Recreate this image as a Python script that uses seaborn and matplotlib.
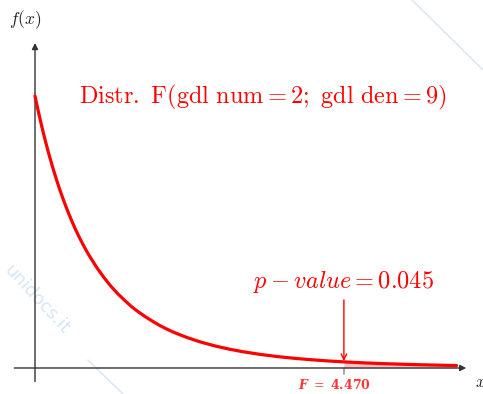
import numpy as np
import pandas as pd
import matplotlib
matplotlib.use("Agg")
import matplotlib.pyplot as plt
import seaborn as sns

# Density of F(2, 9) sampled along x
x_vals = [0.0, 0.025, 0.05, 0.1, 0.15, 0.2, 0.25, 0.3, 0.35, 0.4, 0.45, 0.5,
          0.55, 0.6, 0.65, 0.7, 0.75, 0.8, 0.9, 1.0, 1.1, 1.2, 1.3, 1.4, 1.5,
          1.6, 1.7, 1.8, 1.9, 2.0, 2.2, 2.4, 2.6, 2.8, 3.0, 3.25, 3.5, 3.75,
          4.0, 4.25, 4.47, 4.75, 5.0, 5.5, 6.0, 6.1]
y_vals = [1.0, 0.970, 0.941, 0.886, 0.835, 0.787, 0.743, 0.701, 0.662, 0.626,
          0.592, 0.560, 0.530, 0.502, 0.476, 0.4515, 0.428, 0.407, 0.367,
          0.332, 0.300, 0.2725, 0.248, 0.225, 0.2055, 0.188, 0.172, 0.157,
          0.144, 0.132, 0.112, 0.0953, 0.0814, 0.0699, 0.0602, 0.0503, 0.0422,
          0.0357, 0.0303, 0.0258, 0.0225, 0.0190, 0.0164, 0.0124, 0.00946,
          0.0090]

f_stat = 4.470
p_value = 0.045
title = r"$\mathrm{Distr.\ F(gdl\ num} = 2;\ \mathrm{gdl\ den} = 9)$"

df = pd.DataFrame({"x": x_vals, "y": y_vals})

sns.set_style("white")
plt.rcParams["mathtext.fontset"] = "cm"
plt.rcParams["font.family"] = ["DejaVu Serif"]

fig = plt.figure(figsize=(4.83, 3.94), dpi=100)
ax = fig.add_axes([0, 0, 1, 1])
ax.set_xlim(-0.5065, 6.483)
ax.set_ylim(-0.0956, 1.353)
ax.axis("off")

red = "#ff0000"

# watermark
ax.text(0.03, 0.25, "unidocs.it", rotation=-47, color="#d9e6f3", fontsize=13,
        ha="center", va="center", family="DejaVu Sans", zorder=0)
ax.plot([0.767, 1.273], [0.029, -0.0956], color="#dde8f4", lw=1.2, zorder=0)
ax.plot([5.456, 6.483], [1.353, 1.096], color="#dde8f4", lw=1.2, zorder=0)

# coordinate axes with arrows
ax.annotate("", xy=(6.24, 0), xytext=(-0.30, 0),
            arrowprops=dict(arrowstyle="-|>", color="#333333", lw=1.0,
                            mutation_scale=9, shrinkA=0, shrinkB=0))
ax.annotate("", xy=(0, 1.195), xytext=(0, -0.05),
            arrowprops=dict(arrowstyle="-|>", color="#333333", lw=1.0,
                            mutation_scale=9, shrinkA=0, shrinkB=0))
ax.text(6.45, -0.055, r"$x$", fontsize=12, ha="center", va="center", color="#222222")
ax.text(-0.15, 1.28, r"$f(x)$", fontsize=12.5, ha="center", va="center", color="#222222")

# shaded tail beyond the observed statistic
tail = df[df["x"] >= f_stat]
ax.fill_between(tail["x"], 0, tail["y"], color="#f7c2c2", lw=0, zorder=1)
ax.plot([f_stat, f_stat], [0, -0.022], color="#999999", lw=1.2, zorder=1)

sns.lineplot(data=df, x="x", y="y", ax=ax, color=red, lw=2.3, zorder=3,
             legend=False)

# p-value annotation
y_at_f = y_vals[x_vals.index(4.47)]
ax.annotate("", xy=(f_stat, y_at_f + 0.003), xytext=(f_stat, 0.25),
            arrowprops=dict(arrowstyle="->", color=red, lw=1.0,
                            mutation_scale=10, shrinkA=0, shrinkB=0))
ax.text(f_stat, 0.318, rf"$p-value = {p_value:.3f}$", color=red, fontsize=17.5,
        ha="center", va="center")
ax.text(f_stat - 0.14, -0.064, rf"$\mathbfit{{F}}\ =\ \mathbf{{{f_stat:.3f}}}$",
        color="#ff3333", fontsize=9, ha="center", va="center",
        math_fontfamily="dejavuserif")

ax.text(3.30, 0.996, title, color=red, fontsize=17.5, ha="center", va="center")

fig.savefig("out.png", dpi=100)
